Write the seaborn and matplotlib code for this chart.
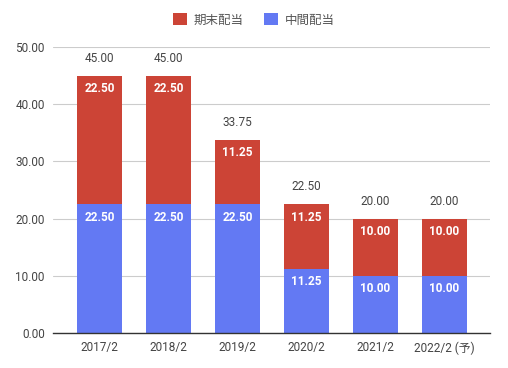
import matplotlib
matplotlib.use("Agg")
import matplotlib.pyplot as plt
import numpy as np
import pandas as pd
import seaborn as sns

years = ['2017/2', '2018/2', '2019/2', '2020/2', '2021/2', '2022/2 (予)']
interim = [22.50, 22.50, 22.50, 11.25, 10.00, 10.00]   # 中間配当
year_end = [22.50, 22.50, 11.25, 11.25, 10.00, 10.00]  # 期末配当

RED = '#cc4436'
BLUE = '#6379f3'

sns.set_style('white')
plt.rcParams['font.family'] = ['Roboto', 'Noto Sans CJK JP', 'DejaVu Sans']

df = pd.DataFrame({'year': years, 'interim': interim, 'year_end': year_end})
df['total'] = df['interim'] + df['year_end']

fig = plt.figure(figsize=(5.08, 3.68), dpi=100)
ax = fig.add_axes([53 / 508, 35 / 368, 437 / 508, 286 / 368])

sns.barplot(data=df, x='year', y='total', color=RED, width=0.65, saturation=1, ax=ax,
            label='期末配当', linewidth=0)
sns.barplot(data=df, x='year', y='interim', color=BLUE, width=0.65, saturation=1, ax=ax,
            label='中間配当', linewidth=0)

ax.set_xlim(-0.674, 5.66)
ax.set_ylim(0, 50)
ax.set_yticks(np.arange(0, 51, 10))
ax.set_yticklabels([f'{v:.2f}' for v in np.arange(0, 51, 10)])
ax.yaxis.grid(True, color='#cccccc', linewidth=0.8)
ax.set_axisbelow(True)
ax.set_xlabel('')
ax.set_ylabel('')
ax.tick_params(axis='both', length=0, labelsize=8.5, labelcolor='#444444', pad=6)
for s in ['top', 'right', 'left']:
    ax.spines[s].set_visible(False)
ax.spines['bottom'].set_color('#333333')
ax.spines['bottom'].set_linewidth(1)

for i, row in df.iterrows():
    ax.text(i, row['total'] - 1.1, f"{row['year_end']:.2f}", ha='center', va='top',
            color='white', fontsize=8.5, fontweight='bold')
    ax.text(i, row['interim'] - 1.1, f"{row['interim']:.2f}", ha='center', va='top',
            color='white', fontsize=8.5, fontweight='bold')
    ax.text(i, row['total'] + 1.9, f"{row['total']:.2f}", ha='center', va='bottom',
            color='#444444', fontsize=8.5)

handles, labels = ax.get_legend_handles_labels()
fig.legend(handles, labels, loc='center', bbox_to_anchor=(0.5, 1 - 20 / 368), ncol=2,
           frameon=False, fontsize=9, handlelength=1.1, handleheight=1.1, columnspacing=1.6,
           handletextpad=0.6, labelcolor='#555555')
if ax.get_legend() is not None:
    ax.get_legend().remove()

fig.savefig('out.png', dpi=100)
